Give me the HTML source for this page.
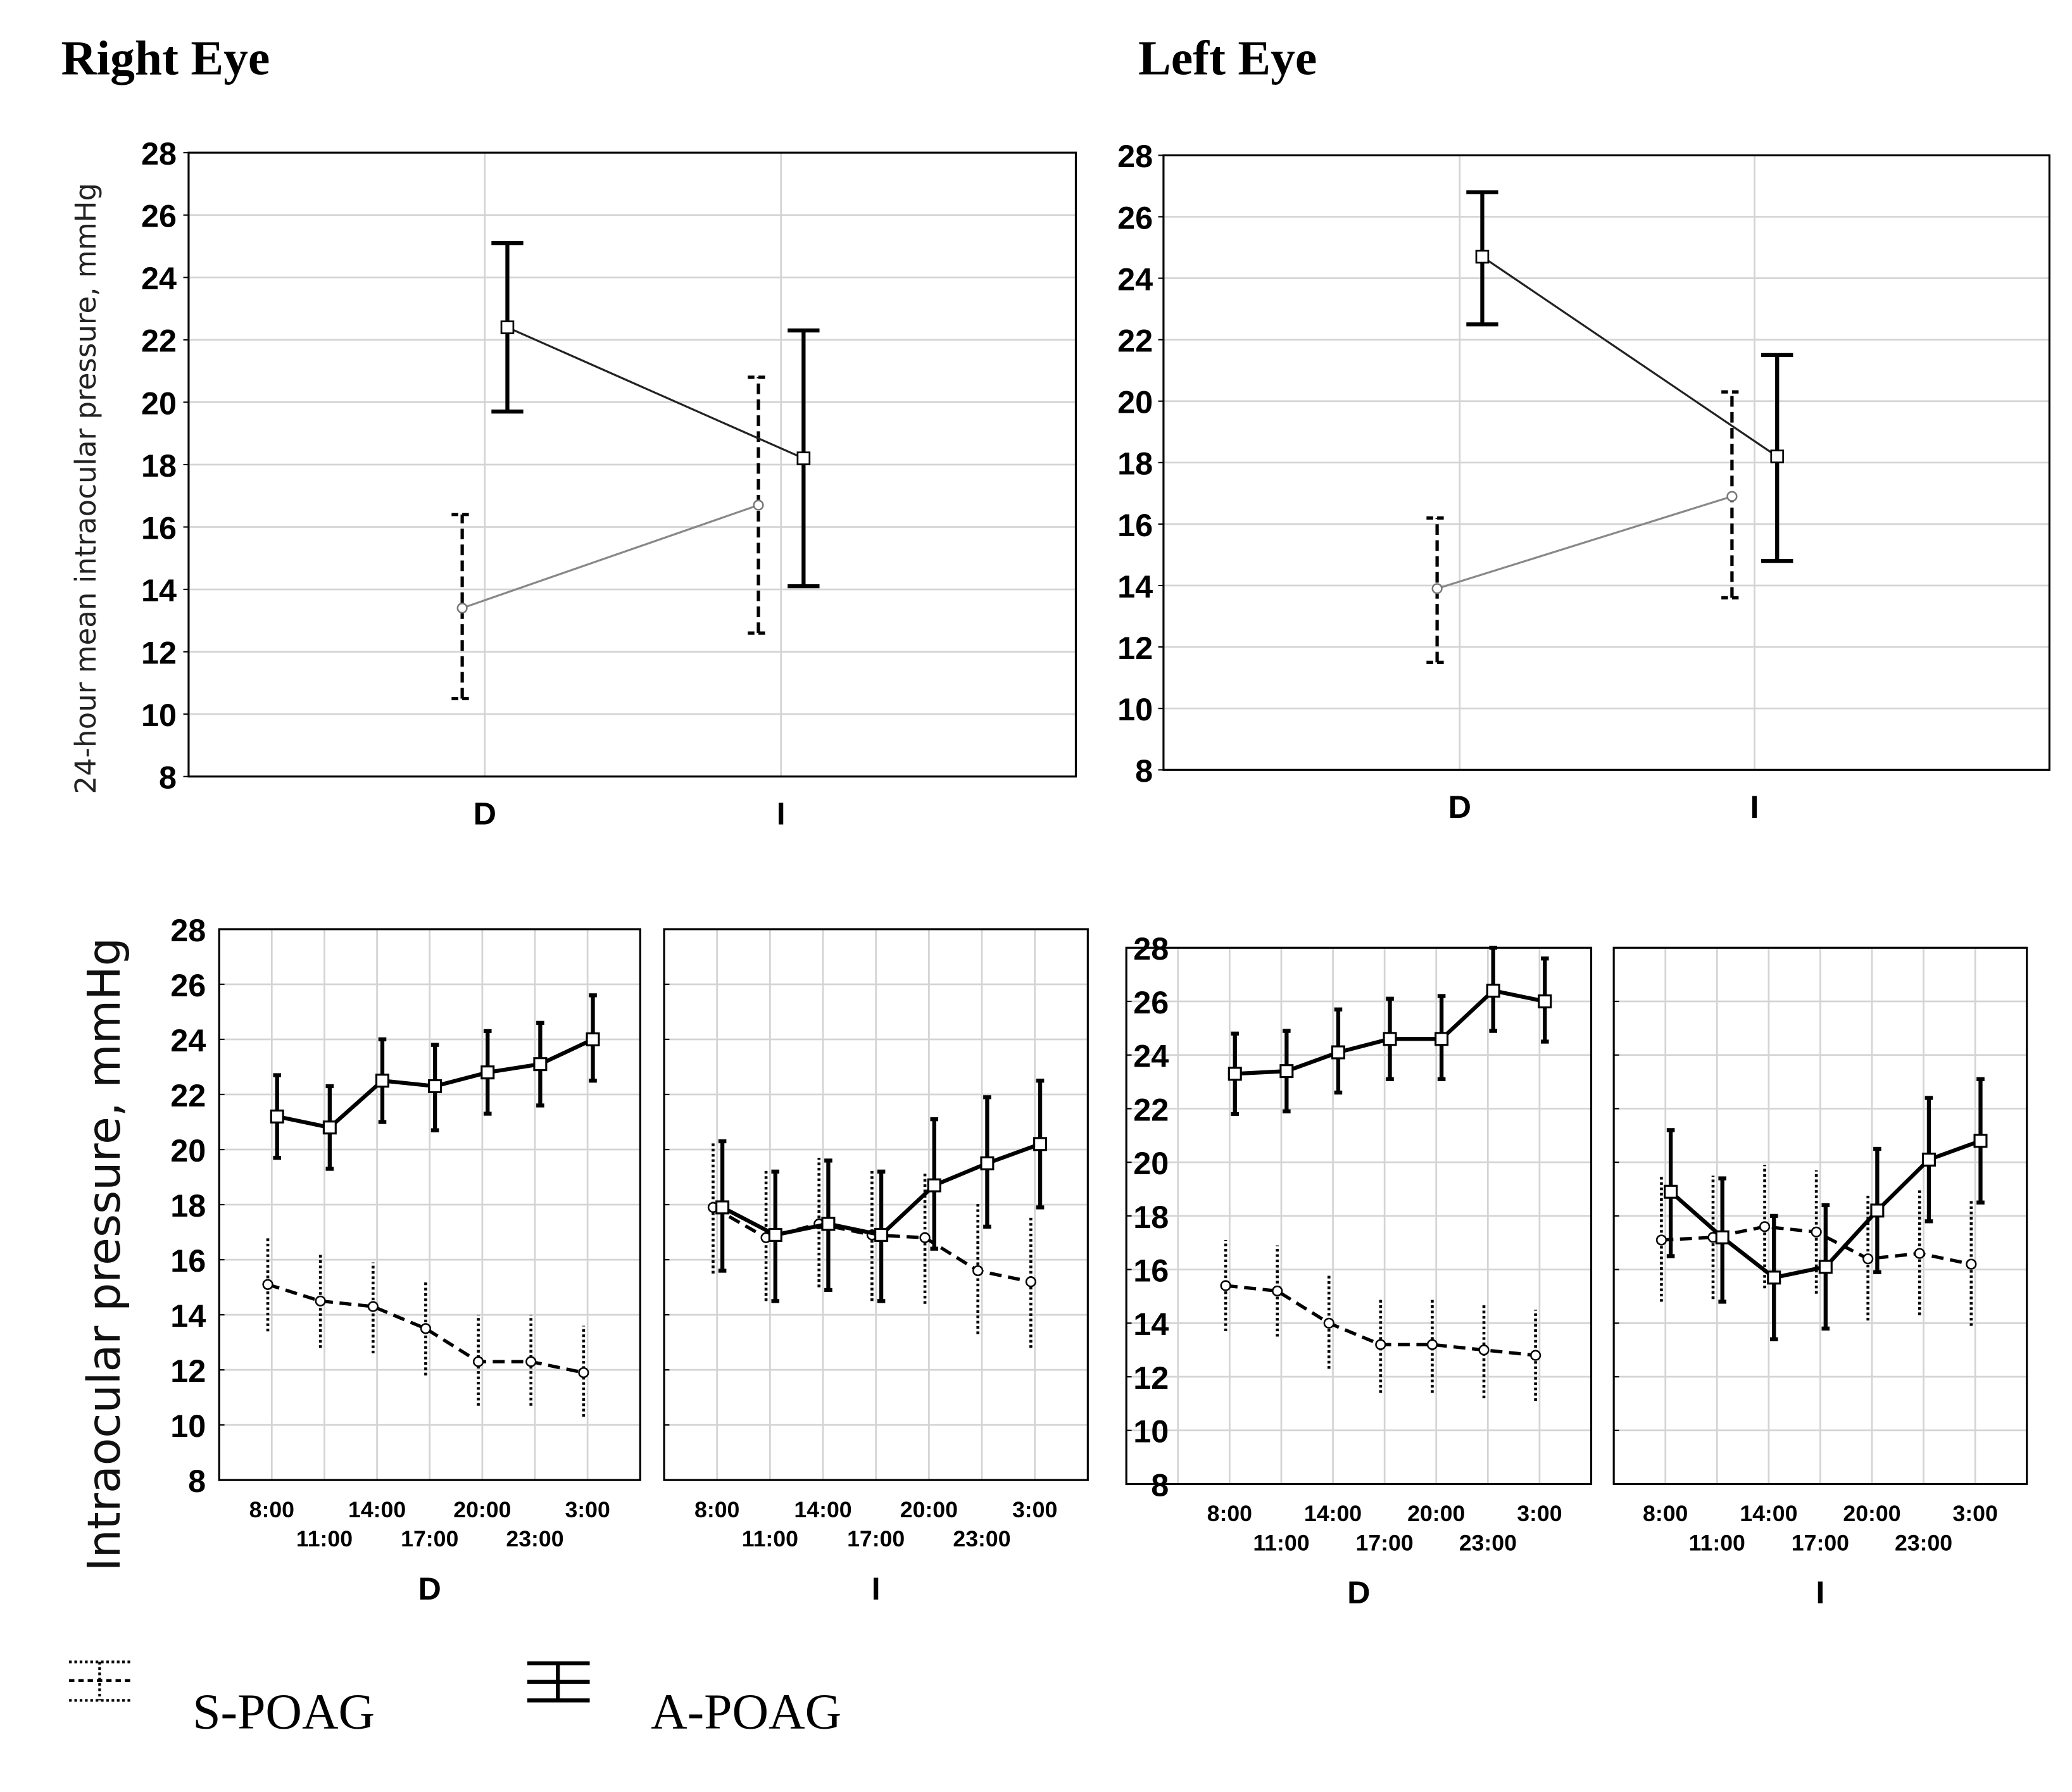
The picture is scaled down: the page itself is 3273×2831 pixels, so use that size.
<!DOCTYPE html>
<html><head><meta charset="utf-8"><style>
html,body{margin:0;padding:0;background:#fff;}
svg{display:block;}
.tick{font-family:"Liberation Sans",Arial,sans-serif;font-weight:bold;font-size:24px;fill:#000;}
.ttick{font-family:"Liberation Sans",Arial,sans-serif;font-weight:bold;font-size:17px;fill:#000;}
.serif{font-family:"Liberation Serif","Times New Roman",serif;fill:#000;}
</style></head><body>
<svg id="fig" width="3273" height="2831" viewBox="0 0 1560 1350" preserveAspectRatio="none" xmlns="http://www.w3.org/2000/svg">
<text class="serif" x="46" y="56" font-size="37" font-weight="bold">Right Eye</text>
<text class="serif" x="857" y="56" font-size="37" font-weight="bold">Left Eye</text>
<text transform="translate(72,368) rotate(-90)" text-anchor="middle" font-family="'DejaVu Sans',sans-serif" font-size="21.5" fill="#222">24-hour mean intraocular pressure, mmHg</text>
<text transform="translate(90,945) rotate(-90)" text-anchor="middle" font-family="'DejaVu Sans',sans-serif" font-size="34" fill="#111">Intraocular pressure, mmHg</text>
<g id="legend">
 <g>
  <line x1="52" y1="1252" x2="98" y2="1252" stroke="#000" stroke-width="2" stroke-dasharray="2,2"/>
  <line x1="52" y1="1266" x2="98" y2="1266" stroke="#000" stroke-width="2" stroke-dasharray="4,3"/>
  <line x1="52" y1="1281" x2="98" y2="1281" stroke="#000" stroke-width="2" stroke-dasharray="2,2"/>
  <line x1="75" y1="1252" x2="75" y2="1281" stroke="#000" stroke-width="2" stroke-dasharray="2,2"/>
  <text class="serif" x="145" y="1302" font-size="38">S-POAG</text>
 </g>
 <g>
  <line x1="397" y1="1253" x2="444" y2="1253" stroke="#000" stroke-width="3"/>
  <line x1="397" y1="1267" x2="444" y2="1267" stroke="#000" stroke-width="3"/>
  <line x1="397" y1="1281" x2="444" y2="1281" stroke="#000" stroke-width="3"/>
  <line x1="420" y1="1253" x2="420" y2="1281" stroke="#000" stroke-width="3"/>
  <text class="serif" x="490" y="1302" font-size="38">A-POAG</text>
 </g>
</g>
</svg>
<script>
// ---- data ----
const topCats = ["D","I"];
const times = ["8:00","11:00","14:00","17:00","20:00","23:00","3:00"];
const yTicks = [8,10,12,14,16,18,20,22,24,26,28];
// Top summary charts
const reA_mean=[22.4,18.2], reA_lo=[19.7,14.1], reA_hi=[25.1,22.3];
const reS_mean=[13.4,16.7], reS_lo=[10.5,12.6], reS_hi=[16.4,20.8];
const leA_mean=[24.7,18.2], leA_lo=[22.5,14.8], leA_hi=[26.8,21.5];
const leS_mean=[13.9,16.9], leS_lo=[11.5,13.6], leS_hi=[16.2,20.3];
// Bottom time series - right eye
const reDA_mean=[21.2,20.8,22.5,22.3,22.8,23.1,24.0], reDA_lo=[19.7,19.3,21.0,20.7,21.3,21.6,22.5], reDA_hi=[22.7,22.3,24.0,23.8,24.3,24.6,25.6];
const reDS_mean=[15.1,14.5,14.3,13.5,12.3,12.3,11.9], reDS_lo=[13.4,12.8,12.6,11.8,10.7,10.7,10.3], reDS_hi=[16.8,16.2,15.9,15.2,14.0,14.0,13.6];
const reIA_mean=[17.9,16.9,17.3,16.9,18.7,19.5,20.2], reIA_lo=[15.6,14.5,14.9,14.5,16.4,17.2,17.9], reIA_hi=[20.3,19.2,19.6,19.2,21.1,21.9,22.5];
const reIS_mean=[17.9,16.8,17.3,16.9,16.8,15.6,15.2], reIS_lo=[15.5,14.5,15.0,14.5,14.4,13.3,12.8], reIS_hi=[20.3,19.3,19.7,19.3,19.2,18.1,17.6];
// left eye
const leDA_mean=[23.3,23.4,24.1,24.6,24.6,26.4,26.0], leDA_lo=[21.8,21.9,22.6,23.1,23.1,24.9,24.5], leDA_hi=[24.8,24.9,25.7,26.1,26.2,28.0,27.6];
const leDS_mean=[15.4,15.2,14.0,13.2,13.2,13.0,12.8], leDS_lo=[13.7,13.5,12.3,11.4,11.4,11.2,11.1], leDS_hi=[17.1,16.9,15.8,14.9,14.9,14.7,14.5];
const leIA_mean=[18.9,17.2,15.7,16.1,18.2,20.1,20.8], leIA_lo=[16.5,14.8,13.4,13.8,15.9,17.8,18.5], leIA_hi=[21.2,19.4,18.0,18.4,20.5,22.4,23.1];
const leIS_mean=[17.1,17.2,17.6,17.4,16.4,16.6,16.2], leIS_lo=[14.8,14.9,15.3,15.1,14.1,14.3,13.9], leIS_hi=[19.5,19.5,19.9,19.7,18.8,19.0,18.6];

const NS="http://www.w3.org/2000/svg";
const svg=document.getElementById('fig');
function mk(tag,attrs,parent){const e=document.createElementNS(NS,tag);for(const k in attrs)e.setAttribute(k,attrs[k]);(parent||svg).appendChild(e);return e;}

function yScale(top,bot){return v=>bot-(v-8)/(28-8)*(bot-top);}

function drawYAxis(g,y,left,right,labX,drawGrid){
  yTicks.forEach(t=>{
    if(drawGrid) mk('line',{x1:left,x2:right,y1:y(t),y2:y(t),stroke:'#d4d4d4','stroke-width':1.3},g);
    mk('line',{x1:left-4,x2:left,y1:y(t),y2:y(t),stroke:'#000','stroke-width':1},g);
    const tx=mk('text',{x:labX,y:y(t)+9,'text-anchor':'end',class:'tick'},g);
    tx.textContent=t;
    
    
  });
}

function errBar(g,x,ylo,yhi,style,cap){
  if(style==='A'){
    mk('line',{x1:x,x2:x,y1:ylo,y2:yhi,stroke:'#000','stroke-width':3},g);
    mk('line',{x1:x-cap,x2:x+cap,y1:ylo,y2:ylo,stroke:'#000','stroke-width':3},g);
    mk('line',{x1:x-cap,x2:x+cap,y1:yhi,y2:yhi,stroke:'#000','stroke-width':3},g);
  } else if(style==='Sdash'){
    mk('line',{x1:x,x2:x,y1:ylo,y2:yhi,stroke:'#000','stroke-width':2.5,'stroke-dasharray':'8,4'},g);
    mk('line',{x1:x-cap,x2:x+cap,y1:ylo,y2:ylo,stroke:'#000','stroke-width':2.5,'stroke-dasharray':'5,3'},g);
    mk('line',{x1:x-cap,x2:x+cap,y1:yhi,y2:yhi,stroke:'#000','stroke-width':2.5,'stroke-dasharray':'5,3'},g);
  } else {
    mk('line',{x1:x,x2:x,y1:ylo,y2:yhi,stroke:'#000','stroke-width':2.2,'stroke-dasharray':'2,2'},g);
  }
}

function topChart(name,left,top,right,bot,catX,A,S,labX){
  const g=mk('g',{});
  
  
  const y=yScale(top,bot);
  drawYAxis(g,y,left,right,labX,true);
  catX.forEach((cx,i)=>{
    mk('line',{x1:cx,x2:cx,y1:top,y2:bot,stroke:'#d4d4d4','stroke-width':1.3},g);
    const t=mk('text',{x:cx,y:bot+36,'text-anchor':'middle',class:'tick'},g);
    t.textContent=topCats[i];
    
    
  });
  mk('rect',{x:left,y:top,width:right-left,height:bot-top,fill:'none',stroke:'#000','stroke-width':1.5},g);
  const sx=catX.map(c=>c-17), ax=catX.map(c=>c+17);
  S[0].forEach((m,i)=>errBar(g,sx[i],y(S[1][i]),y(S[2][i]),'Sdash',8));
  mk('polyline',{points:S[0].map((m,i)=>sx[i]+','+y(m)).join(' '),fill:'none',stroke:'#888','stroke-width':1.5},g);
  S[0].forEach((m,i)=>{const c=mk('circle',{cx:sx[i],cy:y(m),r:3.5,fill:'#fff',stroke:'#777','stroke-width':1.2},g);});
  A[0].forEach((m,i)=>errBar(g,ax[i],y(A[1][i]),y(A[2][i]),'A',12));
  mk('polyline',{points:A[0].map((m,i)=>ax[i]+','+y(m)).join(' '),fill:'none',stroke:'#222','stroke-width':1.5},g);
  A[0].forEach((m,i)=>{const r=mk('rect',{x:ax[i]-4.5,y:y(m)-4.5,width:9,height:9,fill:'#fff',stroke:'#000','stroke-width':1.3},g);});
}

function panel(name,left,top,right,bot,xs,gridXs,A,S,withLabels,labX,cat){
  const g=mk('g',{});
  
  
  const y=yScale(top,bot);
  yTicks.forEach(t=>{
    mk('line',{x1:left,x2:right,y1:y(t),y2:y(t),stroke:'#d4d4d4','stroke-width':1.3},g);
    mk('line',{x1:left,x2:left+4,y1:y(t),y2:y(t),stroke:'#000','stroke-width':1},g);
    if(withLabels){const tx=mk('text',{x:labX,y:y(t)+9,'text-anchor':'end',class:'tick'},g);tx.textContent=t;
      
      }
  });
  gridXs.forEach(gx=>mk('line',{x1:gx,x2:gx,y1:top,y2:bot,stroke:'#d4d4d4','stroke-width':1.3},g));
  mk('rect',{x:left,y:top,width:right-left,height:bot-top,fill:'none',stroke:'#000','stroke-width':1.5},g);
  times.forEach((t,i)=>{
    const tx=mk('text',{x:xs[i],y:(i%2===0)?bot+28:bot+50,'text-anchor':'middle',class:'ttick'},g);
    tx.textContent=t;
    
    
  });
  const c=mk('text',{x:(left+right)/2,y:bot+90,'text-anchor':'middle',class:'tick'},g);
  c.textContent=cat;
  
  
  const sx=xs.map(x=>x-3), ax=xs.map(x=>x+4);
  S[0].forEach((m,i)=>errBar(g,sx[i],y(S[1][i]),y(S[2][i]),'Sdot',0));
  mk('polyline',{points:S[0].map((m,i)=>sx[i]+','+y(m)).join(' '),fill:'none',stroke:'#000','stroke-width':2.5,'stroke-dasharray':'9,5'},g);
  S[0].forEach((m,i)=>{const e=mk('circle',{cx:sx[i],cy:y(m),r:3.5,fill:'#fff',stroke:'#000','stroke-width':1.2},g);});
  A[0].forEach((m,i)=>errBar(g,ax[i],y(A[1][i]),y(A[2][i]),'A',3));
  mk('polyline',{points:A[0].map((m,i)=>ax[i]+','+y(m)).join(' '),fill:'none',stroke:'#000','stroke-width':3},g);
  A[0].forEach((m,i)=>{const e=mk('rect',{x:ax[i]-4.5,y:y(m)-4.5,width:9,height:9,fill:'#fff',stroke:'#000','stroke-width':1.5},g);});
}

topChart('right-eye-summary-chart',142,115,810,585,[365,588],[reA_mean,reA_lo,reA_hi],[reS_mean,reS_lo,reS_hi],133);
topChart('left-eye-summary-chart',876,117,1543,580,[1099,1321],[leA_mean,leA_lo,leA_hi],[leS_mean,leS_lo,leS_hi],868);

function evenXs(left,w,n,off){return times.map((t,i)=>left+(i+off)*w/n);}
function gridX(left,w,n){const a=[];for(let k=1;k<n;k++)a.push(left+k*w/n);return a;}

panel('right-eye-D-panel',165,700,482,1115,evenXs(165,317,8,1),gridX(165,317,8),[reDA_mean,reDA_lo,reDA_hi],[reDS_mean,reDS_lo,reDS_hi],true,155,'D');
panel('right-eye-I-panel',500,700,819,1115,evenXs(500,319,8,1),gridX(500,319,8),[reIA_mean,reIA_lo,reIA_hi],[reIS_mean,reIS_lo,reIS_hi],false,0,'I');
panel('left-eye-D-panel',848,714,1198,1118,evenXs(848,350,9,2),gridX(848,350,9),[leDA_mean,leDA_lo,leDA_hi],[leDS_mean,leDS_lo,leDS_hi],true,880,'D');
panel('left-eye-I-panel',1215,714,1526,1118,evenXs(1215,311,8,1),gridX(1215,311,8),[leIA_mean,leIA_lo,leIA_hi],[leIS_mean,leIS_lo,leIS_hi],false,0,'I');
</script>
</body></html>
